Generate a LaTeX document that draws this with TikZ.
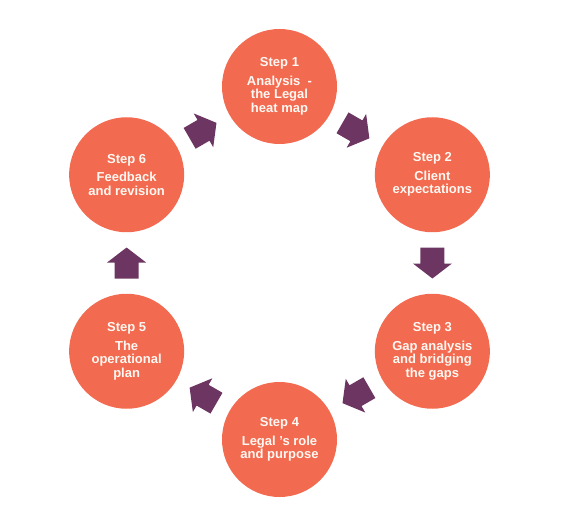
\documentclass[tikz,border=0pt]{standalone}
\usepackage{fontspec}
\setmainfont{Liberation Sans}
\definecolor{circfill}{HTML}{F26A50}
\definecolor{arrowpurple}{HTML}{6D3562}
\definecolor{txt}{HTML}{FFF8F2}
\tikzset{
  stepcircle/.style={circle, fill=circfill, minimum size=115pt, inner sep=0pt,
    text=txt, align=center, font=\fontsize{13}{13.5}\selectfont\bfseries},
  blockarrow/.pic={\fill[arrowpurple] (-15.5,-12) -- (0.5,-12) -- (0.5,-19.5) -- (15.5,0)
     -- (0.5,19.5) -- (0.5,12) -- (-15.5,12) -- cycle;}
}
\begin{document}
\begin{tikzpicture}[x=1pt,y=1pt]
\useasboundingbox (-279.5,-262) rectangle (293.5,263);
\node[stepcircle] (s1) at (90:176.5) {Step 1\\[5pt]Analysis\ \ -\\the Legal\\heat map};
\node[stepcircle] (s2) at (30:176.5) {Step 2\\[5pt]Client\\expectations};
\node[stepcircle] (s3) at (-30:176.5) {Step 3\\[5pt]Gap analysis\\and bridging\\the gaps};
\node[stepcircle] (s4) at (-90:176.5) {Step 4\\[5pt]Legal 's role\\and purpose};
\node[stepcircle] (s5) at (-150:176.5) {Step 5\\[5pt]The\\operational\\plan};
\node[stepcircle] (s6) at (150:176.5) {Step 6\\[5pt]Feedback\\and revision};
\pic[rotate=-30] at (60:152.9) {blockarrow};
\pic[rotate=-90] at (0:152.9) {blockarrow};
\pic[rotate=-150] at (-60:152.9) {blockarrow};
\pic[rotate=150] at (-120:152.9) {blockarrow};
\pic[rotate=90] at (180:152.9) {blockarrow};
\pic[rotate=30] at (120:152.9) {blockarrow};
\end{tikzpicture}
\end{document}
